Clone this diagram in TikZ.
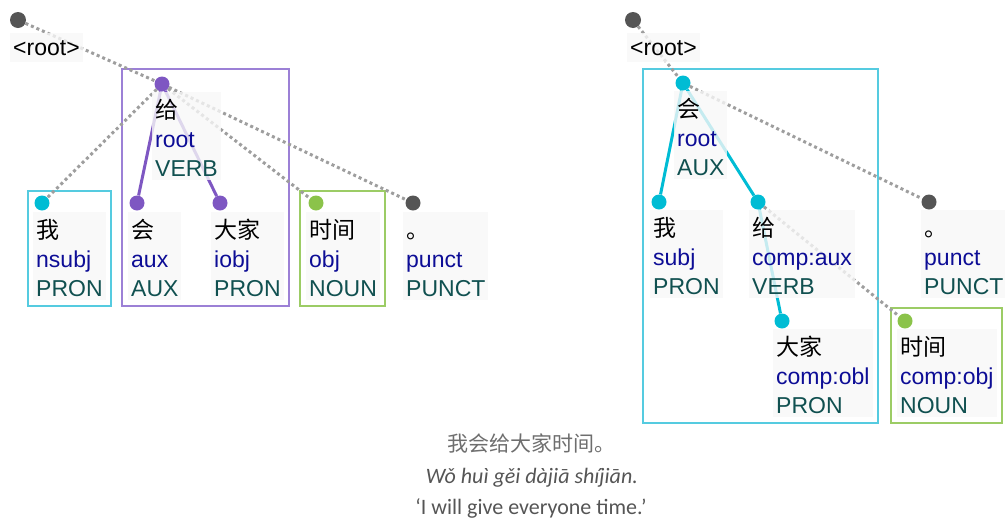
\documentclass[tikz,border=0pt]{standalone}
\usepackage{fontspec}
\setmainfont{Liberation Sans}
\newfontfamily\cjk{Noto Sans CJK SC}
\newfontfamily\glossfont{Carlito}
\usepackage{xcolor}
\usetikzlibrary{positioning}

\definecolor{dotgray}{HTML}{9E9E9E}
\definecolor{rootgray}{HTML}{555555}
\definecolor{cyandot}{HTML}{00BCD4}
\definecolor{cyanbox}{HTML}{55CBE0}
\definecolor{purpdot}{HTML}{7E57C2}
\definecolor{purpbox}{HTML}{9C80D6}
\definecolor{greendot}{HTML}{8BC34A}
\definecolor{greenbox}{HTML}{9CCC65}
\definecolor{panelgray}{HTML}{F7F7F7}
\definecolor{relblue}{HTML}{0D0D96}
\definecolor{posteal}{HTML}{105050}
\definecolor{glossgray}{HTML}{555555}

\newcommand\word[1]{{\cjk\rule{0pt}{22pt}#1}}
\newcommand\deprel[1]{\textcolor{relblue}{#1}}
\newcommand\upostag[1]{\textcolor{posteal}{#1}}

\begin{document}
\begin{tikzpicture}[x=1pt, y=-1pt,
    tok/.style={anchor=north west, align=left, fill=panelgray, fill opacity=0.8, text opacity=1,
        inner xsep=3pt, inner ysep=4pt, font=\fontsize{23}{29}\selectfont},
    rootlbl/.style={tok, minimum height=29pt},
    dot/.style={circle, inner sep=0pt, minimum size=15pt},
    dep/.style={line width=3pt},
    loose/.style={line width=3pt, draw=dotgray, dash pattern=on 3pt off 3pt},
    frame/.style={line width=1.5pt},
    gloss/.style={anchor=base, text=glossgray, font=\glossfont\fontsize{22}{26}\selectfont}
]
\useasboundingbox (0,0) rectangle (1005,520);

% frames
\draw[frame, cyanbox]  (28,191) rectangle (111,306);
\draw[frame, purpbox]  (122,69) rectangle (289,306);
\draw[frame, greenbox] (300,191) rectangle (385,306);
\draw[frame, cyanbox]  (643,69) rectangle (878,423);
\draw[frame, greenbox] (891,308) rectangle (1002,423);

% left tree
\node[dot, fill=rootgray, minimum size=16pt] (lroot) at (18,20) {};
\node[dot, fill=purpdot]  (lgei)     at (162,84)  {};
\node[dot, fill=cyandot]  (lwo)      at (42,203)  {};
\node[dot, fill=purpdot]  (lhui)     at (137,203) {};
\node[dot, fill=purpdot]  (ldajia)   at (220,203) {};
\node[dot, fill=greendot] (lshijian) at (316,203) {};
\node[dot, fill=rootgray] (lpunct)   at (413,203) {};

\draw[loose] (lroot) -- (lgei);
\draw[loose] (lgei) -- (lwo);
\draw[loose] (lgei) -- (lshijian);
\draw[loose] (lgei) -- (lpunct);
\draw[dep, purpdot] (lgei) -- (lhui);
\draw[dep, purpdot] (lgei) -- (ldajia);

\node[rootlbl] (lroottxt) at (10,33) {<root>};
\node[tok] (lgeitxt)  at (152,92) {\word{给}\\\deprel{root}\\\upostag{VERB}};
\node[tok] (lwotxt)   at (33,212) {\word{我}\\\deprel{nsubj}\\\upostag{PRON}};
\node[tok] (lhuitxt)  at (128,212) {\word{会}\\\deprel{aux}\\\upostag{AUX}};
\node[tok] (ldajiatxt) at (211,212) {\word{大家}\\\deprel{iobj}\\\upostag{PRON}};
\node[tok] (lshijiantxt) at (306,212) {\word{时间}\\\deprel{obj}\\\upostag{NOUN}};
\node[tok] (lpuncttxt) at (403,212) {\word{。}\\\deprel{punct}\\\upostag{PUNCT}};

% right tree
\node[dot, fill=rootgray, minimum size=16pt] (rroot) at (633,20) {};
\node[dot, fill=cyandot]  (rhui)     at (683,83)  {};
\node[dot, fill=cyandot]  (rwo)      at (659,202) {};
\node[dot, fill=cyandot]  (rgei)     at (758,202) {};
\node[dot, fill=rootgray] (rpunct)   at (929,202) {};
\node[dot, fill=cyandot]  (rdajia)   at (782,321) {};
\node[dot, fill=greendot] (rshijian) at (905,321) {};

\draw[loose] (rroot) -- (rhui);
\draw[loose] (rhui) -- (rpunct);
\draw[loose] (rgei) -- (rshijian);
\draw[dep, cyandot] (rhui) -- (rwo);
\draw[dep, cyandot] (rhui) -- (rgei);
\draw[dep, cyandot] (rgei) -- (rdajia);

\node[rootlbl] (rroottxt) at (627,33) {<root>};
\node[tok] (rhuitxt)  at (674,91) {\word{会}\\\deprel{root}\\\upostag{AUX}};
\node[tok] (rwotxt)   at (650,210) {\word{我}\\\deprel{subj}\\\upostag{PRON}};
\node[tok] (rgeitxt)  at (749,210) {\word{给}\\\deprel{comp:aux}\\\upostag{VERB}};
\node[tok] (rpuncttxt) at (921,210) {\word{。}\\\deprel{punct}\\\upostag{PUNCT}};
\node[tok] (rdajiatxt) at (773,329) {\word{大家}\\\deprel{comp:obl}\\\upostag{PRON}};
\node[tok] (rshijiantxt) at (897,329) {\word{时间}\\\deprel{comp:obj}\\\upostag{NOUN}};

% caption
\node[gloss, text=glossgray!85, font=\cjk\fontsize{21}{26}\selectfont] (zh) at (531,451) {我会给大家时间。};
\node[gloss] (py) at (532,483) {\itshape Wǒ huì gěi dàjiā shíjiān.};
\node[gloss] (en) at (531,514) {‘I will give everyone time.’};
\end{tikzpicture}
\end{document}
